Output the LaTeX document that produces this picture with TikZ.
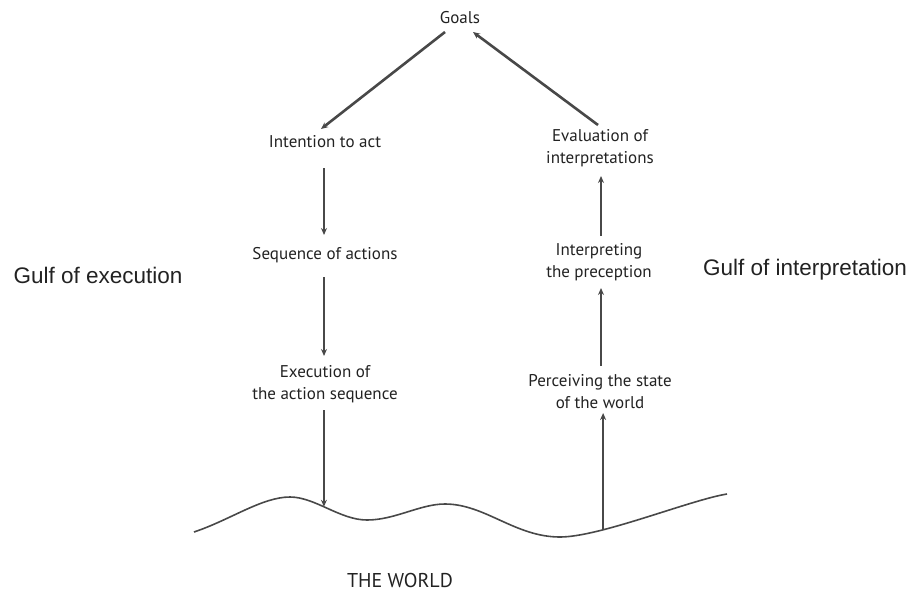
\documentclass[tikz,border=0pt]{standalone}
\usepackage{fontspec}
\setmainfont{PT Sans}
\newfontfamily\gulffont{Liberation Sans}
\usetikzlibrary{arrows.meta}
\definecolor{ink}{HTML}{222222}
\definecolor{linegray}{HTML}{484848}
\begin{document}
\begin{tikzpicture}[x=1pt,y=-1pt,
  stage/.style={font=\fontsize{17}{22}\selectfont, text=ink, align=center, inner sep=0pt},
  gulf/.style={font=\gulffont\fontsize{22.5}{26}\selectfont, text=ink, inner sep=0pt},
  flow/.style={draw=linegray, line width=2pt, -{Stealth[length=7pt,width=6pt]}},
  diag/.style={flow, line width=2.6pt}]
\useasboundingbox (0,0) rectangle (909,594);

% stages of action
\node[stage] (goals) at (460,18) {Goals};
\node[stage] (intent) at (325,142) {Intention to act};
\node[stage] (seq) at (325,255) {Sequence of actions};
\node[stage] (exec) at (325,384) {Execution of\\the action sequence};
\node[stage] (eval) at (600,148) {Evaluation of\\interpretations};
\node[stage] (interp) at (599,262) {Interpreting\\the preception};
\node[stage] (perc) at (600,392) {Perceiving the state\\of the world};

% side labels
\node[gulf] (gexec) at (98,275) {Gulf of execution};
\node[gulf] (ginterp) at (805,270) {Gulf of interpretation};
\node[stage, font=\fontsize{20}{24}\selectfont] (world) at (400,580) {THE WORLD};

% the world surface
\draw[linegray, line width=1.6pt]
  (194,532) .. controls (230,520) and (262,497) .. (290,497)
            .. controls (315,497) and (340,520) .. coordinate[pos=0.45] (hit) (367,520)
            .. controls (395,520) and (420,504) .. (445,504)
            .. controls (485,504) and (515,537) .. (560,537)
            .. controls (600,537) and (690,500) .. coordinate[pos=0.28] (sense) (727,494);

% execution side
\draw[diag] (445,32) -- (321,129);
\draw[flow] (324,168) -- (324,235);
\draw[flow] (324,277) -- (324,356);
\draw[flow] (hit |- 0,410) -- (hit);

% evaluation side
\draw[flow] (sense) -- (sense |- 0,413);
\draw[flow] (601,366) -- (601,288);
\draw[flow] (601,236) -- (601,176);
\draw[diag] (598,125) -- (473,32);
\end{tikzpicture}
\end{document}
